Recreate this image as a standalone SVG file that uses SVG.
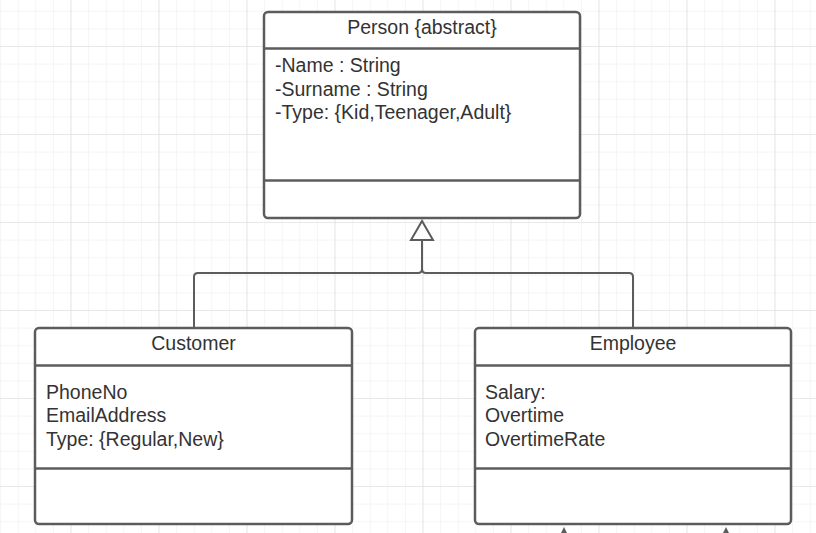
<svg xmlns="http://www.w3.org/2000/svg" width="816" height="533" viewBox="0 0 816 533">
<defs>
<pattern id="minor" x="0.1" y="10.8" width="17.6" height="17.6" patternUnits="userSpaceOnUse">
<path d="M0 0 H17.6 M0 0 V17.6" fill="none" stroke="#ececec" stroke-width="1"/>
</pattern>
<pattern id="major" x="70.5" y="46" width="88" height="88" patternUnits="userSpaceOnUse">
<path d="M0 0 H88 M0 0 V88" fill="none" stroke="#dcdcdc" stroke-width="1.2"/>
</pattern>
</defs>
<style>
.box{fill:#fff;stroke:#5c5c5c;stroke-width:2.5}
.div{stroke:#5c5c5c;stroke-width:2.5}
.conn{fill:none;stroke:#5c5c5c;stroke-width:2}
text{font-family:"Liberation Sans",Arial,sans-serif;font-size:19.5px;fill:#333}
.title{text-anchor:middle}
</style>
<rect width="816" height="533" fill="#fff"/>
<rect width="816" height="533" fill="url(#minor)"/>
<rect width="816" height="533" fill="url(#major)"/>
<g id="connectors">
<path class="conn" d="M194 328 V277 Q194 273 198 273 H418 Q422 273 422 269 V240"/>
<path class="conn" d="M633 328 V277 Q633 273 629 273 H426 Q422 273 422 269"/>
<polygon points="422,221 411,240 433,240" fill="#fff" stroke="#5c5c5c" stroke-width="2"/>
<polygon points="564,527 561,533 567,533" fill="#5c5c5c"/>
<polygon points="726,527 723,533 729,533" fill="#5c5c5c"/>
</g>
<g id="person">
<rect class="box" x="264" y="12" width="316" height="206" rx="4"/>
<line class="div" x1="264" y1="48.5" x2="580" y2="48.5"/>
<line class="div" x1="264" y1="180.5" x2="580" y2="180.5"/>
<text class="title" x="422" y="34">Person {abstract}</text>
<text x="275" y="72">-Name : String</text>
<text x="275" y="96">-Surname : String</text>
<text x="275" y="119">-Type: {Kid,Teenager,Adult}</text>
</g>
<g id="customer">
<rect class="box" x="35" y="328" width="317" height="196" rx="4"/>
<line class="div" x1="35" y1="365.5" x2="352" y2="365.5"/>
<line class="div" x1="35" y1="468.5" x2="352" y2="468.5"/>
<text class="title" x="193.5" y="350">Customer</text>
<text x="46" y="399">PhoneNo</text>
<text x="46" y="422">EmailAddress</text>
<text x="46" y="446">Type: {Regular,New}</text>
</g>
<g id="employee">
<rect class="box" x="475" y="328" width="316" height="196" rx="4"/>
<line class="div" x1="475" y1="365.5" x2="791" y2="365.5"/>
<line class="div" x1="475" y1="468.5" x2="791" y2="468.5"/>
<text class="title" x="633" y="350">Employee</text>
<text x="485" y="399">Salary:</text>
<text x="485" y="422">Overtime</text>
<text x="485" y="446">OvertimeRate</text>
</g>
</svg>
